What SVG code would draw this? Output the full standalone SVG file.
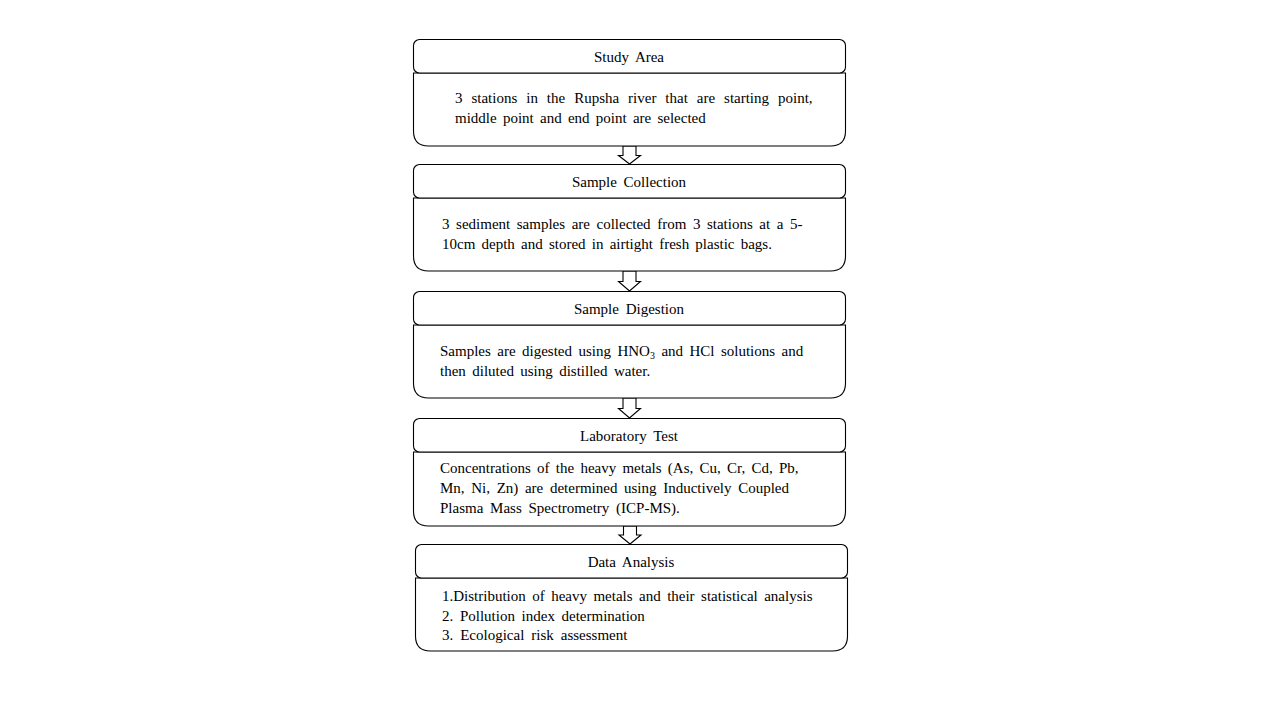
<svg xmlns="http://www.w3.org/2000/svg" width="1280" height="720" viewBox="0 0 1280 720">
<style>
  .hdr { fill: #fff; stroke: #000; stroke-width: 1.1; }
  .body { fill: #fff; stroke: #000; stroke-width: 1.1; }
  .t { font-family: "Liberation Serif", "Times New Roman", serif; font-size: 15px; fill: #000; }
  .title { text-anchor: middle; word-spacing: 3px; }
  .ln { word-spacing: 2.7px; }
  .arrow { fill: #fff; stroke: #000; stroke-width: 1.1; stroke-linejoin: miter; }
</style>
<rect width="1280" height="720" fill="#fff"/>

<g id="connectors">
  <path class="arrow" d="M623,146 V155.5 H618.5 L629.5,164 L640.5,155.5 H636 V146 Z"/>
  <path class="arrow" d="M623,271 V281.5 H618.5 L629.5,291 L640.5,281.5 H636 V271 Z"/>
  <path class="arrow" d="M623,398 V408.5 H618.5 L629.5,418 L640.5,408.5 H636 V398 Z"/>
  <path class="arrow" d="M623.5,526 V535 H619 L630,544 L641,535 H636.5 V526 Z"/>
</g>

<g id="study-area">
  <path class="body" d="M413.5,73 H845.5 V131 Q845.5,146 830.5,146 H428.5 Q413.5,146 413.5,131 Z"/>
  <rect class="hdr" x="413.5" y="39.5" width="432" height="33.5" rx="6"/>
  <text class="t title" x="629" y="61.5">Study Area</text>
  <text class="t ln" x="455" y="103" style="word-spacing:5.2px">3 stations in the Rupsha river that are starting point,</text>
  <text class="t ln" x="455" y="123" style="word-spacing:2.5px">middle point and end point are selected</text>
</g>

<g id="sample-collection">
  <path class="body" d="M413.5,198 H845.5 V256 Q845.5,271 830.5,271 H428.5 Q413.5,271 413.5,256 Z"/>
  <rect class="hdr" x="413.5" y="164.5" width="432" height="33.5" rx="6"/>
  <text class="t title" x="629" y="186.5">Sample  Collection</text>
  <text class="t ln" x="442" y="229" style="word-spacing:2.8px">3 sediment samples are collected from 3 stations at a 5-</text>
  <text class="t ln" x="442" y="249" style="word-spacing:2.45px">10cm depth and stored in airtight fresh plastic bags.</text>
</g>

<g id="sample-digestion">
  <path class="body" d="M413.5,325 H845.5 V383 Q845.5,398 830.5,398 H428.5 Q413.5,398 413.5,383 Z"/>
  <rect class="hdr" x="413.5" y="291.5" width="432" height="33.5" rx="6"/>
  <text class="t title" x="629" y="313.5">Sample  Digestion</text>
  <text class="t ln" x="440" y="356" style="word-spacing:2.7px">Samples are digested using HNO<tspan font-size="10" dy="3">3</tspan><tspan dy="-3"> and HCl solutions and</tspan></text>
  <text class="t ln" x="440" y="376" style="word-spacing:2.65px">then diluted using distilled water.</text>
</g>

<g id="laboratory-test">
  <path class="body" d="M413.5,452 H845.5 V511 Q845.5,526 830.5,526 H428.5 Q413.5,526 413.5,511 Z"/>
  <rect class="hdr" x="413.5" y="418.5" width="432" height="33.5" rx="6"/>
  <text class="t title" x="629" y="440.5">Laboratory  Test</text>
  <text class="t ln" x="440" y="473" style="word-spacing:2.5px">Concentrations of the heavy metals (As, Cu, Cr, Cd, Pb,</text>
  <text class="t ln" x="440" y="493" style="word-spacing:2.9px">Mn, Ni, Zn) are determined using Inductively Coupled</text>
  <text class="t ln" x="440" y="513" style="word-spacing:3px">Plasma Mass Spectrometry (ICP-MS).</text>
</g>

<g id="data-analysis">
  <path class="body" d="M415.5,578 H847.5 V636 Q847.5,651 832.5,651 H430.5 Q415.5,651 415.5,636 Z"/>
  <rect class="hdr" x="415.5" y="544.5" width="432" height="33.5" rx="6"/>
  <text class="t title" x="631" y="566.5">Data Analysis</text>
  <text class="t ln" x="442" y="601" style="word-spacing:2.7px">1.Distribution of heavy metals and their statistical analysis</text>
  <text class="t ln" x="442" y="620.5" style="word-spacing:2.9px">2. Pollution index determination</text>
  <text class="t ln" x="442" y="640" style="word-spacing:3.2px">3. Ecological risk assessment</text>
</g>
</svg>
